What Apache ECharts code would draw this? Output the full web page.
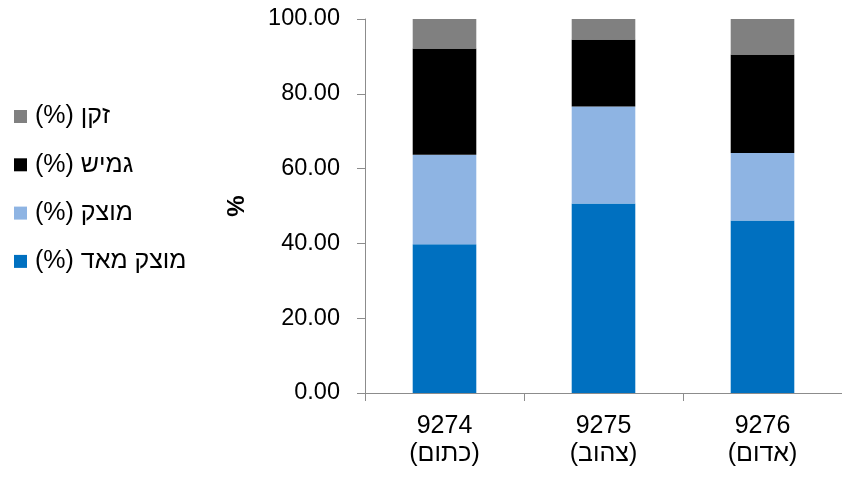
<!DOCTYPE html>
<html>
<head>
<meta charset="utf-8">
<script src="https://cdn.jsdelivr.net/npm/echarts@6/dist/echarts.min.js"></script>
<style>html,body{margin:0;padding:0;background:#fff;}#c{width:842px;height:477px;}</style>
</head>
<body>
<div id="c"></div>
<script>
const categories = ['9274\n(כתום)', '9275\n(צהוב)', '9276\n(אדום)'];
const seriesNames = ['מוצק מאד (%)', 'מוצק (%)', 'גמיש (%)', 'זקן (%)'];
const veryFirm = [39.8, 50.7, 46.1];
const firm = [23.9, 25.9, 18.1];
const flexible = [28.4, 17.9, 26.3];
const aged = [7.9, 5.5, 9.5];
const yTicks = [0, 20, 40, 60, 80, 100];

const colors = ['#0070C0', '#8EB4E3', '#000000', '#808080'];
const values = [veryFirm, firm, flexible, aged];
const font = "'Liberation Sans', Arial, sans-serif";

const chart = echarts.init(document.getElementById('c'));
chart.setOption({
  animation: false,
  textStyle: { fontFamily: font },
  legend: {
    orient: 'vertical',
    left: 14,
    top: 104,
    padding: 0,
    itemWidth: 13,
    itemHeight: 13,
    itemGap: 23.3,
    icon: 'rect',
    data: seriesNames.slice().reverse(),
    formatter: n => '\u202B' + n + '\u202C',
    textStyle: { fontSize: 25, lineHeight: 25, color: '#000', fontFamily: font, padding: [0, 0, 0, 3] }
  },
  grid: { left: 365, top: 19, width: 483, bottom: 84, containLabel: false },
  xAxis: {
    type: 'category',
    data: categories,
    axisLine: { lineStyle: { color: '#8c8c8c', width: 1 } },
    axisTick: { show: true, length: 8, lineStyle: { color: '#8c8c8c' } },
    axisLabel: { fontSize: 25, lineHeight: 28, color: '#000', margin: 19, fontFamily: font,
      formatter: v => v.split('\n').map(s => '\u202B' + s + '\u202C').join('\n') }
  },
  yAxis: {
    type: 'value',
    min: yTicks[0],
    max: yTicks[yTicks.length - 1],
    interval: 20,
    name: '%',
    nameLocation: 'middle',
    nameRotate: 90,
    nameGap: 116,
    nameTextStyle: { fontSize: 24, fontWeight: 'bold', color: '#000', fontFamily: font },
    axisLine: { show: true, lineStyle: { color: '#8c8c8c', width: 1 } },
    axisTick: { show: true, length: 8, lineStyle: { color: '#8c8c8c' } },
    splitLine: { show: false },
    axisLabel: { fontSize: 23.5, color: '#000', margin: 25, fontFamily: font, formatter: v => v.toFixed(2) }
  },
  series: seriesNames.map((n, i) => ({
    name: n,
    type: 'bar',
    stack: 'total',
    barWidth: '40%',
    data: values[i],
    itemStyle: { color: colors[i] }
  }))
});
</script>
</body>
</html>
